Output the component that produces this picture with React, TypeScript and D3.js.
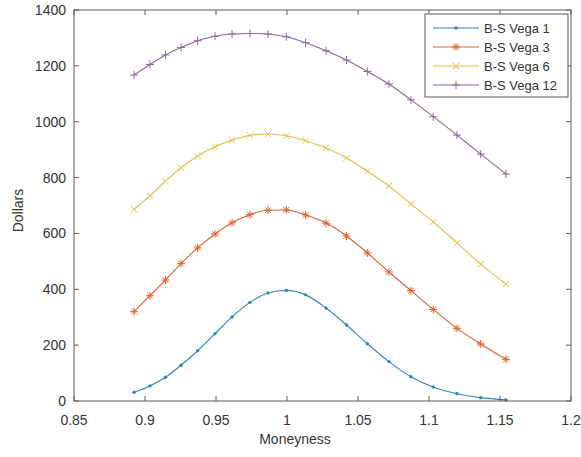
import React from "react";
import * as d3 from "d3";

const moneyness = [0.8923, 0.9035, 0.9144, 0.9254, 0.9371, 0.9493, 0.9613, 0.9739, 0.9866, 0.9995, 1.0131, 1.0275, 1.0419, 1.0566, 1.0718, 1.0873, 1.103, 1.1197, 1.1364, 1.1542];
const vega1 = [31, 54, 85, 128, 180, 241, 301, 353, 387, 396, 380, 333, 272, 205, 141, 87, 50, 26, 12, 4];
const vega3 = [320, 377, 433, 492, 548, 598, 638, 667, 683, 684, 666, 637, 591, 530, 462, 395, 328, 260, 204, 149];
const vega6 = [686, 735, 787, 835, 877, 910, 934, 951, 956, 950, 932, 906, 870, 823, 770, 705, 641, 566, 490, 419];
const vega12 = [1167, 1205, 1239, 1266, 1290, 1306, 1314, 1316, 1314, 1304, 1283, 1254, 1221, 1180, 1135, 1078, 1018, 952, 884, 813];
const seriesNames = ["B-S Vega 1", "B-S Vega 3", "B-S Vega 6", "B-S Vega 12"];
const xTicks = [0.85, 0.9, 0.95, 1, 1.05, 1.1, 1.15, 1.2];
const xTickLabels = ["0.85", "0.9", "0.95", "1", "1.05", "1.1", "1.15", "1.2"];
const yTicks = [0, 200, 400, 600, 800, 1000, 1200, 1400];

const colors = ["#2f86b8", "#d9632e", "#e3c04a", "#8a6898"];
const markers = ["dot", "asterisk", "x", "plus"];
const FONT = "'Liberation Sans', Arial, Helvetica, sans-serif";

function Marker({ type, x, y, color }: { type: string; x: number; y: number; color: string }) {
  if (type === "dot") return <circle cx={x} cy={y} r={1.7} fill={color} />;
  const s = 4;
  const d = 3.2;
  let path = "";
  if (type === "plus") path = `M${x - s},${y}H${x + s}M${x},${y - s}V${y + s}`;
  if (type === "x") path = `M${x - d},${y - d}L${x + d},${y + d}M${x - d},${y + d}L${x + d},${y - d}`;
  if (type === "asterisk")
    path = `M${x - s},${y}H${x + s}M${x},${y - s}V${y + s}M${x - d * 0.9},${y - d * 0.9}L${x + d * 0.9},${y + d * 0.9}M${x - d * 0.9},${y + d * 0.9}L${x + d * 0.9},${y - d * 0.9}`;
  return <path d={path} stroke={color} strokeWidth={1} fill="none" />;
}

export default function App() {
  const left = 74, right = 571, top = 10, bottom = 401;
  const x = d3.scaleLinear().domain([0.85, 1.2]).range([left, right]);
  const y = d3.scaleLinear().domain([0, 1400]).range([bottom, top]);
  const series = [vega1, vega3, vega6, vega12];
  const line = d3
    .line<number>()
    .x((_, i) => x(moneyness[i]))
    .y((v) => y(v))
    .curve(d3.curveMonotoneX);
  const axisColor = "#5a5a5a";
  const textColor = "#333333";
  const tl = 5;

  const legX = 425, legY = 14, legW = 143, legH = 83;

  return (
    <svg width={581} height={457} style={{ position: "absolute", left: 0, top: 0, background: "#fff" }}>
      <rect x={0} y={0} width={581} height={457} fill="#fff" />
      {series.map((s, k) => (
        <g key={k}>
          <path d={line(s) || ""} fill="none" stroke={colors[k]} strokeWidth={1.1} />
          {s.map((v, i) => (
            <Marker key={i} type={markers[k]} x={x(moneyness[i])} y={y(v)} color={colors[k]} />
          ))}
        </g>
      ))}
      <rect x={left} y={top} width={right - left} height={bottom - top} fill="none" stroke={axisColor} strokeWidth={1} />
      {xTicks.map((t, i) => (
        <g key={"x" + i}>
          <line x1={x(t)} x2={x(t)} y1={bottom} y2={bottom - tl} stroke={axisColor} />
          <line x1={x(t)} x2={x(t)} y1={top} y2={top + tl} stroke={axisColor} />
          <text x={x(t)} y={425} textAnchor="middle" fontFamily={FONT} fontSize={14} fill={textColor}>
            {xTickLabels[i]}
          </text>
        </g>
      ))}
      {yTicks.map((t, i) => (
        <g key={"y" + i}>
          <line x1={left} x2={left + tl} y1={y(t)} y2={y(t)} stroke={axisColor} />
          <line x1={right} x2={right - tl} y1={y(t)} y2={y(t)} stroke={axisColor} />
          <text x={66} y={y(t) + 5} textAnchor="end" fontFamily={FONT} fontSize={14} fill={textColor}>
            {t}
          </text>
        </g>
      ))}
      <text x={295} y={444} textAnchor="middle" fontFamily={FONT} fontSize={14} fill={textColor}>
        Moneyness
      </text>
      <text
        transform={`translate(23,${(top + bottom) / 2 + 5}) rotate(-90)`}
        textAnchor="middle"
        fontFamily={FONT}
        fontSize={14}
        fill={textColor}
      >
        Dollars
      </text>
      <rect x={legX} y={legY} width={legW} height={legH} fill="#fff" stroke={axisColor} strokeWidth={1} />
      {seriesNames.map((n, k) => {
        const ly = 28 + k * 19;
        return (
          <g key={"l" + k}>
            <line x1={433} x2={479} y1={ly} y2={ly} stroke={colors[k]} strokeWidth={1.1} />
            <Marker type={markers[k]} x={456} y={ly} color={colors[k]} />
            <text x={484} y={ly + 4.5} fontFamily={FONT} fontSize={13} fill={textColor}>
              {n}
            </text>
          </g>
        );
      })}
    </svg>
  );
}
